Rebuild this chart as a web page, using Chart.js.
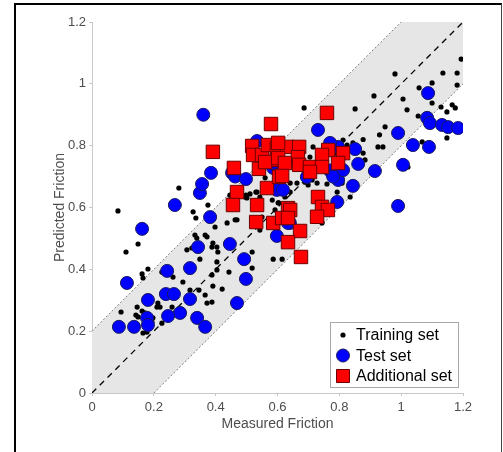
<!DOCTYPE html>
<html>
<head>
<meta charset="utf-8">
<script src="https://cdn.jsdelivr.net/npm/chart.js@4.4.0/dist/chart.umd.min.js"></script>
<style>
  body { margin: 0; background: #fff; }
  #wrap { position: relative; width: 503px; height: 452px; overflow: hidden; }
  #frame { position: absolute; left: 14px; top: 3px; width: 485px; height: 470px;
    border-left: 2px solid #000; border-top: 2px solid #000; border-right: 1px solid #444;
    pointer-events: none; }
</style>
</head>
<body>
<div id="wrap">
  <canvas id="grafico" width="503" height="452"></canvas>
  <div id="frame"></div>
</div>
<script>
// training set (black dots)
let trainingX = [0.084,0.11,0.149,0.162,0.181,0.165,0.094,0.146,0.142,0.149,0.162,0.171,0.197,0.194,0.165,0.178,0.188,0.21,0.213,0.22,
  0.226,0.226,0.262,0.259,0.294,0.317,0.346,0.366,0.372,0.388,0.343,0.391,0.421,0.388,0.404,0.404,0.349,0.307,0.323,0.333,
  0.339,0.366,0.372,0.391,0.404,0.388,0.398,0.327,0.336,0.375,0.407,0.443,0.469,0.518,0.518,0.586,0.543,0.55,0.437,0.281,
  0.446,0.495,0.511,0.534,0.583,0.602,0.56,0.686,0.851,0.912,0.98,1.006,1.058,1.1,1.135,1.181,1.194,1.181,1.019,1.055,
  1.1,1.129,1.148,1.165,1.175,1.148,0.948,0.925,0.941,1.035,1.068,1.022,0.715,0.705,0.877,0.883,0.825,0.818,0.809,0.793,
  0.835,0.747,0.641,0.624,0.615,0.663,0.689,0.76,0.641,0.728,0.615,0.744,0.812,0.76,0.712,0.699,0.604,0.592,0.501,0.53,
  0.543,0.498,0.463,0.54,0.592,0.93,0.877,0.844,0.861,0.786,0.786];
let trainingY = [0.589,0.456,0.482,0.385,0.401,0.372,0.262,0.278,0.252,0.246,0.265,0.259,0.243,0.23,0.194,0.197,0.21,0.278,0.291,0.278,
  0.226,0.391,0.375,0.278,0.359,0.333,0.333,0.317,0.291,0.294,0.23,0.346,0.336,0.382,0.398,0.424,0.433,0.463,0.469,0.511,
  0.501,0.511,0.505,0.485,0.472,0.472,0.537,0.586,0.566,0.608,0.456,0.391,0.56,0.456,0.404,0.433,0.527,0.569,0.55,0.663,
  0.64,0.634,0.644,0.65,0.624,0.615,0.696,0.922,0.919,0.961,1.032,0.951,0.987,1.003,1.035,1.035,1.08,0.996,0.916,0.896,
  0.938,0.925,0.909,0.932,0.922,0.825,0.861,0.796,0.796,0.809,0.812,0.731,0.796,0.763,0.776,0.754,0.802,0.77,0.679,0.65,
  0.634,0.725,0.65,0.634,0.65,0.679,0.682,0.676,0.679,0.679,0.433,0.55,0.818,0.812,0.689,0.673,0.615,0.592,0.631,0.65,
  0.634,0.64,0.56,0.56,0.518,0.835,0.82,0.809,0.786,0.776,0.608];

// test set (blue circles)
let testX = [0.36,0.268,0.349,0.356,0.385,0.453,0.463,0.498,0.534,0.162,0.382,0.113,0.343,0.446,0.492,0.498,0.243,0.317,0.239,0.265,
  0.181,0.317,0.469,0.285,0.246,0.178,0.181,0.34,0.366,0.087,0.136,0.598,0.731,0.99,1.087,1.084,1.093,1.132,1.152,1.184,
  1.038,1.09,1.006,0.851,0.861,0.915,0.844,0.793,0.773,0.796,0.776,0.796,0.812,0.99,0.64,0.77,0.586,0.608,0.598,0.618,
  0.634,0.695,0.77,0.78,0.586];
let testY = [0.90,0.608,0.647,0.676,0.712,0.712,0.70,0.692,0.815,0.531,0.569,0.356,0.472,0.482,0.433,0.369,0.395,0.404,0.32,0.32,
  0.301,0.304,0.291,0.259,0.249,0.243,0.22,0.243,0.214,0.214,0.214,0.508,0.851,0.841,0.97,0.89,0.873,0.867,0.86,0.857,
  0.802,0.796,0.738,0.789,0.741,0.718,0.67,0.618,0.802,0.796,0.712,0.689,0.721,0.605,0.55,0.809,0.728,0.715,0.657,0.657,
  0.55,0.699,0.72,0.70,0.744];

// additional set (red squares)
let additionalX = [0.579,0.391,0.459,0.469,0.456,0.534,0.566,0.518,0.521,0.55,0.569,0.54,0.598,0.598,0.56,0.605,0.531,0.586,0.76,0.631,
  0.67,0.764,0.812,0.744,0.666,0.602,0.624,0.67,0.705,0.744,0.796,0.705,0.615,0.731,0.634,0.744,0.641,0.763,0.728,0.615,
  0.634,0.673,0.634,0.676,0.602];
let additionalY = [0.87,0.78,0.728,0.65,0.608,0.608,0.663,0.799,0.77,0.77,0.802,0.725,0.793,0.754,0.747,0.699,0.553,0.55,0.906,0.796,
  0.796,0.786,0.776,0.77,0.763,0.76,0.744,0.738,0.731,0.731,0.744,0.715,0.702,0.634,0.598,0.602,0.592,0.592,0.57,0.566,
  0.566,0.524,0.488,0.44,0.809];

let ticksXY = [0, 0.2, 0.4, 0.6, 0.8, 1, 1.2];
let bandWidth = 0.2;

function pares(xs, ys) {
  return xs.map((x, i) => ({ x: x, y: ys[i] }));
}

// faixa cinza + linhas diagonais
const faixaPlugin = {
  id: "faixa",
  beforeDatasetsDraw(chart) {
    const { ctx, chartArea, scales } = chart;
    const sx = v => scales.x.getPixelForValue(v);
    const sy = v => scales.y.getPixelForValue(v);
    const min = ticksXY[0], max = ticksXY[ticksXY.length - 1];
    ctx.save();
    ctx.beginPath();
    ctx.rect(chartArea.left, chartArea.top, chartArea.right - chartArea.left, chartArea.bottom - chartArea.top);
    ctx.clip();

    ctx.beginPath();
    ctx.moveTo(sx(min), sy(min));
    ctx.lineTo(sx(min), sy(min + bandWidth));
    ctx.lineTo(sx(max - bandWidth), sy(max));
    ctx.lineTo(sx(max), sy(max));
    ctx.lineTo(sx(max), sy(max - bandWidth));
    ctx.lineTo(sx(min + bandWidth), sy(min));
    ctx.closePath();
    ctx.fillStyle = "#e6e6e6";
    ctx.fill();

    ctx.strokeStyle = "#7a7a7a";
    ctx.lineWidth = 1;
    ctx.setLineDash([2, 2]);
    ctx.beginPath();
    ctx.moveTo(sx(min), sy(min + bandWidth));
    ctx.lineTo(sx(max - bandWidth), sy(max));
    ctx.moveTo(sx(min + bandWidth), sy(min));
    ctx.lineTo(sx(max), sy(max - bandWidth));
    ctx.stroke();

    ctx.strokeStyle = "#000";
    ctx.lineWidth = 1.3;
    ctx.setLineDash([6, 5]);
    ctx.beginPath();
    ctx.moveTo(sx(min), sy(min));
    ctx.lineTo(sx(max), sy(max));
    ctx.stroke();
    ctx.restore();
  }
};

// legenda dentro do gráfico
const legendaPlugin = {
  id: "legenda",
  afterDraw(chart) {
    const { ctx, chartArea } = chart;
    const w = 128, h = 65;
    const x0 = chartArea.right - 5 - w;
    const y0 = chartArea.bottom - 6 - h;
    ctx.save();
    ctx.fillStyle = "#fff";
    ctx.fillRect(x0, y0, w, h);
    ctx.strokeStyle = "#a8a8a8";
    ctx.lineWidth = 1;
    ctx.strokeRect(x0 + 0.5, y0 + 0.5, w, h);
    ctx.font = "16px 'Liberation Sans', Arial, sans-serif";
    ctx.textBaseline = "middle";
    const itens = chart.data.datasets;
    itens.forEach((ds, i) => {
      const cy = y0 + 13 + i * 20.5;
      const cx = x0 + 13;
      ctx.beginPath();
      if (ds.pointStyle === "rect") {
        ctx.rect(cx - 6.5, cy - 6.5, 13, 13);
      } else {
        ctx.arc(cx, cy, ds.pointRadius, 0, Math.PI * 2);
      }
      ctx.fillStyle = ds.backgroundColor;
      ctx.fill();
      ctx.strokeStyle = ds.borderColor;
      ctx.lineWidth = ds.borderWidth;
      if (ds.borderWidth) ctx.stroke();
      ctx.fillStyle = "#000";
      ctx.fillText(ds.label, x0 + 26, cy + 1);
    });
    ctx.restore();
  }
};

let ctx = document.getElementById("grafico").getContext("2d");

new Chart(ctx, {
  type: "scatter",
  data: {
    datasets: [
      {
        label: "Training set",
        data: pares(trainingX, trainingY),
        backgroundColor: "#000",
        borderColor: "#000",
        borderWidth: 0,
        pointRadius: 2.6,
        order: 3
      },
      {
        label: "Test set",
        data: pares(testX, testY),
        backgroundColor: "#0000ff",
        borderColor: "#1a1a5e",
        borderWidth: 1,
        pointRadius: 6.5,
        order: 2
      },
      {
        label: "Additional set",
        data: pares(additionalX, additionalY),
        backgroundColor: "#ff0000",
        borderColor: "#6b0000",
        borderWidth: 1,
        pointStyle: "rect",
        pointRadius: 9.5,
        order: 1
      }
    ]
  },
  plugins: [faixaPlugin, legendaPlugin],
  options: {
    responsive: false,
    animation: false,
    layout: { padding: { left: 52, top: 22, right: 40, bottom: 0 } },
    plugins: {
      legend: { display: false },
      tooltip: { enabled: false }
    },
    scales: {
      x: {
        type: "linear",
        min: 0,
        max: 1.2,
        afterFit: s => { s.height = 59; },
        afterBuildTicks: s => { s.ticks = ticksXY.map(v => ({ value: v })); },
        grid: { drawOnChartArea: false, color: "#c8c8c8", tickLength: 3 },
        border: { color: "#c8c8c8" },
        ticks: {
          padding: 4,
          color: "#4d4d4d",
          font: { size: 13, family: "'Liberation Sans', Arial, sans-serif" },
          callback: v => String(Number(v.toFixed(1)))
        },
        title: {
          display: true,
          text: "Measured Friction",
          color: "#4d4d4d",
          padding: { top: 0, bottom: 19 },
          font: { size: 14, family: "'Liberation Sans', Arial, sans-serif" }
        }
      },
      y: {
        type: "linear",
        min: 0,
        max: 1.2,
        afterFit: s => { s.width = 40; },
        afterBuildTicks: s => { s.ticks = ticksXY.map(v => ({ value: v })); },
        grid: { drawOnChartArea: false, color: "#c8c8c8", tickLength: 3 },
        border: { color: "#c8c8c8" },
        ticks: {
          padding: 3,
          color: "#4d4d4d",
          font: { size: 13, family: "'Liberation Sans', Arial, sans-serif" },
          callback: v => String(Number(v.toFixed(1)))
        },
        title: {
          display: true,
          text: "Predicted Friction",
          color: "#4d4d4d",
          padding: 0,
          font: { size: 14, family: "'Liberation Sans', Arial, sans-serif" }
        }
      }
    }
  }
});
</script>
</body>
</html>
